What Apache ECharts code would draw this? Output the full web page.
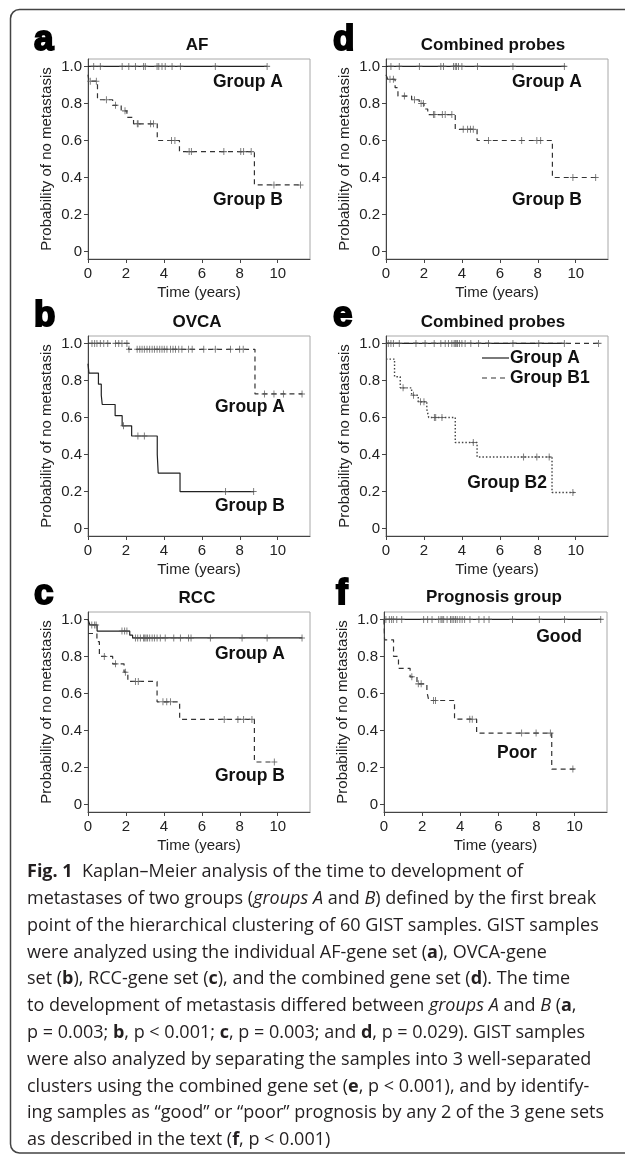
<!DOCTYPE html>
<html><head><meta charset="utf-8">
<script src="https://cdn.jsdelivr.net/npm/echarts@6/dist/echarts.min.js"></script>
<style>html,body{margin:0;padding:0;background:#fff}#c{width:625px;height:1156px}</style>
</head><body><div id="c"></div>
<script>
// ---------- tick labels ----------
const xTicks = [0, 2, 4, 6, 8, 10];
const yTicks = [0, 0.2, 0.4, 0.6, 0.8, 1.0];

// ---------- panel a (AF) ----------
const aA_t = [0, 9.44];
const aA_s = [1, 1];
const aA_c = [0.3, 0.65, 1.8, 2.15, 2.5, 2.93, 3.02, 3.64, 3.73, 3.9, 4.07, 4.43, 4.87, 6.71, 9.44];
const aB_t = [0, 0.05, 0.5, 1.3, 1.75, 2.05, 2.4, 3.65, 4.82, 8.77, 11.25];
const aB_s = [0.955, 0.92, 0.82, 0.79, 0.76, 0.725, 0.69, 0.60, 0.54, 0.36, 0.36];
const aB_c = [0.12, 0.44, 0.97, 1.45, 1.95, 2.6, 2.64, 3.3, 3.45, 4.4, 4.58, 5.33, 5.45, 7.16, 8.05, 8.2, 8.6, 9.8, 11.2];

// ---------- panel b (OVCA) ----------
const bA_t = [0, 2.14, 8.8, 11.3];
const bA_s = [1, 0.968, 0.727, 0.727];
const bA_c = [0.21, 0.35, 0.47, 0.65, 0.83, 1.04, 1.45, 1.62, 1.79, 2.05, 2.16, 2.59, 2.73, 2.85, 2.97, 3.11, 3.25, 3.38, 3.5, 3.64, 3.78, 3.9, 4.02, 4.16, 4.35, 4.48, 4.61, 4.78, 4.95, 5.3, 5.49, 6.1, 6.71, 7.51, 7.99, 8.18, 9.3, 9.8, 10.3, 11.28];
const bB_t = [0, 0.05, 0.55, 0.7, 0.75, 1.43, 1.8, 2.3, 3.65, 3.7, 4.85, 8.75];
const bB_s = [0.89, 0.84, 0.78, 0.72, 0.67, 0.61, 0.555, 0.50, 0.40, 0.30, 0.20, 0.20];
const bB_c = [1.87, 2.63, 2.97, 7.25, 8.73];

// ---------- panel c (RCC) ----------
const cA_t = [0, 0.1, 0.48, 2.2, 2.35, 11.3];
const cA_s = [1, 0.97, 0.937, 0.915, 0.90, 0.90];
const cA_c = [0.2, 0.35, 0.43, 1.79, 1.93, 2.05, 2.5, 2.62, 2.76, 2.93, 2.99, 3.06, 3.14, 3.25, 3.38, 3.5, 3.64, 3.81, 4.07, 4.52, 4.87, 5.3, 5.43, 6.45, 8.12, 9.44, 11.28];
const cB_t = [0, 0.47, 0.6, 1.3, 1.9, 2.1, 3.64, 4.83, 8.77, 9.85];
const cB_s = [0.924, 0.88, 0.80, 0.76, 0.715, 0.665, 0.555, 0.46, 0.23, 0.23];
const cB_c = [0.86, 1.45, 1.97, 2.5, 2.65, 3.95, 4.15, 4.35, 7.18, 7.9, 8.2, 8.64, 9.82];

// ---------- panel d (Combined probes) ----------
const dA_t = [0, 9.45];
const dA_s = [1, 1];
const dA_c = [0.26, 0.7, 1.76, 2.89, 3.03, 3.56, 3.65, 3.72, 3.82, 4.0, 4.82, 6.69, 9.4];
const dB_t = [0, 0.1, 0.48, 0.63, 1.35, 1.75, 2.0, 2.2, 3.65, 4.8, 8.77, 11.1];
const dB_s = [0.955, 0.93, 0.885, 0.84, 0.82, 0.80, 0.77, 0.74, 0.66, 0.60, 0.40, 0.40];
const dB_c = [0.21, 0.39, 0.97, 1.5, 1.85, 1.97, 2.5, 2.57, 2.97, 3.12, 3.47, 4.07, 4.3, 4.45, 4.6, 5.4, 7.15, 7.95, 8.15, 9.85, 11.05];

// ---------- panel e (Combined probes, 3 clusters) ----------
const eA_t = [0, 9.4];
const eA_s = [1, 1];
const eA_c = [0.12, 0.26, 0.39, 0.7, 1.58, 2.06, 2.54, 2.89, 3.12, 3.29, 3.47, 3.59, 3.65, 3.7, 3.77, 3.87, 4.0, 4.17, 4.47, 4.88, 5.4, 6.69, 8.05, 9.4];
const eB1_t = [0, 11.2];
const eB1_s = [1, 1];
const eB1_c = [11.2];
const eB2_t = [0, 0.45, 0.75, 1.35, 1.7, 2.15, 2.25, 3.65, 4.8, 8.75, 9.95];
const eB2_s = [0.915, 0.82, 0.76, 0.72, 0.685, 0.645, 0.60, 0.465, 0.387, 0.195, 0.195];
const eB2_c = [0.9, 1.45, 1.82, 2.0, 2.55, 2.62, 2.95, 4.6, 7.25, 7.95, 8.6, 9.85];

// ---------- panel f (Prognosis group) ----------
const fG_t = [0, 11.4];
const fG_s = [1, 1];
const fG_c = [0.1, 0.28, 0.4, 0.49, 0.67, 0.93, 2.08, 2.29, 2.52, 2.87, 2.99, 3.05, 3.13, 3.31, 3.49, 3.57, 3.66, 3.75, 3.84, 3.98, 4.1, 4.23, 4.51, 4.98, 5.25, 5.51, 6.74, 8.15, 9.47, 11.37];
const fP_t = [0, 0.03, 0.5, 0.76, 1.37, 1.73, 2.25, 2.35, 3.7, 4.86, 8.8, 10.0];
const fP_s = [1, 0.89, 0.80, 0.736, 0.69, 0.652, 0.61, 0.562, 0.461, 0.386, 0.192, 0.192];
const fP_c = [1.46, 1.8, 1.95, 2.6, 2.7, 4.5, 4.63, 7.22, 7.98, 8.73, 9.91];

// ---------- layout / styles ----------
const FF = 'Liberation Sans, Arial, sans-serif';
const SOLID = {type: 'solid', width: 1.2, color: '#222'};
const DASH = {type: [5, 4], width: 1.2, color: '#333'};
const DOT = {type: [1.5, 2], width: 1.4, color: '#444'};

const panels = [
  {grid: {left: 88, top: 59, width: 222, height: 200}, curves: [[aA_t, aA_s, aA_c, SOLID], [aB_t, aB_s, aB_c, DASH]]},
  {grid: {left: 88, top: 336, width: 222, height: 200}, curves: [[bA_t, bA_s, bA_c, DASH], [bB_t, bB_s, bB_c, SOLID]]},
  {grid: {left: 88, top: 612, width: 222, height: 200}, curves: [[cA_t, cA_s, cA_c, SOLID], [cB_t, cB_s, cB_c, DASH]]},
  {grid: {left: 386, top: 59, width: 222, height: 200}, curves: [[dA_t, dA_s, dA_c, SOLID], [dB_t, dB_s, dB_c, DASH]]},
  {grid: {left: 386, top: 336, width: 222, height: 200}, curves: [[eB1_t, eB1_s, eB1_c, DASH], [eA_t, eA_s, eA_c, SOLID], [eB2_t, eB2_s, eB2_c, DOT]]},
  {grid: {left: 384, top: 612, width: 223, height: 200}, curves: [[fG_t, fG_s, fG_c, SOLID], [fP_t, fP_s, fP_c, DASH]]}
];

function kmData(t, s) { return t.map((v, i) => [v, s[i]]); }
function censData(t, s, c) {
  return c.map(x => { let y = s[0]; for (let i = 0; i < t.length; i++) { if (t[i] <= x) y = s[i]; } return [x, y]; });
}

const grids = [], xAxes = [], yAxes = [], series = [];
panels.forEach((p, gi) => {
  grids.push(Object.assign({show: true, borderColor: '#a8a8a8', borderWidth: 1, backgroundColor: 'transparent'}, p.grid));
  xAxes.push({
    type: 'value', gridIndex: gi, min: 0, max: 11.7,
    axisLine: {show: true, onZero: false, lineStyle: {color: '#444', width: 1}},
    axisTick: {show: true, length: 4, customValues: xTicks, lineStyle: {color: '#444'}},
    axisLabel: {customValues: xTicks, fontSize: 15, fontFamily: FF, color: '#222', margin: 7},
    splitLine: {show: false},
    name: 'Time (years)', nameLocation: 'middle', nameGap: 26,
    nameTextStyle: {fontSize: 15, fontFamily: FF, color: '#222'}
  });
  yAxes.push({
    type: 'value', gridIndex: gi, min: -0.04, max: 1.04,
    axisLine: {show: true, onZero: false, lineStyle: {color: '#444', width: 1}},
    axisTick: {show: true, length: 4, customValues: yTicks, lineStyle: {color: '#444'}},
    axisLabel: {customValues: yTicks, fontSize: 15, fontFamily: FF, color: '#222', margin: 6,
      formatter: v => (Math.abs(v) < 1e-9 ? '0' : v.toFixed(1))},
    splitLine: {show: false},
    name: 'Probability of no metastasis', nameLocation: 'middle', nameGap: 34,
    nameTextStyle: {fontSize: 15, fontFamily: FF, color: '#222'}
  });
  p.curves.forEach(([t, s, c, ls]) => {
    series.push({
      type: 'line', xAxisIndex: gi, yAxisIndex: gi, step: 'end', data: kmData(t, s),
      showSymbol: false, symbol: 'none', lineStyle: ls, silent: true, animation: false, z: ls === SOLID ? 3 : 2
    });
    series.push({
      type: 'scatter', xAxisIndex: gi, yAxisIndex: gi, data: censData(t, s, c),
      symbol: 'path://M5,0L5,10M0,5L10,5', symbolSize: [6, 7],
      itemStyle: {color: 'none', borderColor: '#555', borderWidth: 1}, silent: true, animation: false, z: 4
    });
  });
});

function T(x, y, text, size, weight, align) {
  return {type: 'text', x: x, y: y, silent: true,
    style: {text: text, fontSize: size, fontWeight: weight || 'normal', fontFamily: FF, fill: '#111',
      align: align || 'center', verticalAlign: 'middle'}};
}
function L(x1, y1, x2, y2, ls) {
  return {type: 'line', silent: true, shape: {x1: x1, y1: y1, x2: x2, y2: y2},
    style: {stroke: ls.color, lineWidth: ls.width, lineDash: Array.isArray(ls.type) ? ls.type : null}};
}
function LET(x, y, ch) {
  return {type: 'text', x: x, y: y, silent: true,
    style: {text: ch, fontSize: 35, fontWeight: 'bold', fontFamily: FF, fill: '#000', stroke: '#000', lineWidth: 2,
      align: 'left', verticalAlign: 'middle'}};
}

const graphics = [
  {type: 'rect', silent: true, shape: {x: 10.5, y: 9.5, width: 700, height: 1143.5, r: 9},
    style: {fill: 'none', stroke: '#444', lineWidth: 1.5}},
  // panel letters
  LET(34, 40, 'a'), LET(333, 40, 'd'), LET(34, 316, 'b'), LET(333, 316, 'e'), LET(34, 594, 'c'), LET(336, 594, 'f'),
  // titles
  T(197, 45, 'AF', 17, 'bold'), T(493, 45, 'Combined probes', 17, 'bold'),
  T(197, 322, 'OVCA', 17, 'bold'), T(493, 322, 'Combined probes', 17, 'bold'),
  T(197, 598, 'RCC', 17, 'bold'), T(494, 597, 'Prognosis group', 17, 'bold'),
  // group labels
  T(248, 82, 'Group A', 17.5, 'bold'), T(248, 200, 'Group B', 17.5, 'bold'),
  T(547, 82, 'Group A', 17.5, 'bold'), T(547, 200, 'Group B', 17.5, 'bold'),
  T(250, 407, 'Group A', 17.5, 'bold'), T(250, 506, 'Group B', 17.5, 'bold'),
  T(250, 654, 'Group A', 17.5, 'bold'), T(250, 776, 'Group B', 17.5, 'bold'),
  T(559, 637, 'Good', 17.5, 'bold'), T(517, 753, 'Poor', 17.5, 'bold'),
  T(507, 483, 'Group B2', 17.5, 'bold'),
  // panel e legend
  L(482, 358, 509, 358, SOLID), L(482, 378, 509, 378, DASH),
  T(510, 358, 'Group A', 17.5, 'bold', 'left'), T(510, 378, 'Group B1', 17.5, 'bold', 'left')
];

// caption
const CF = 'Open Sans, Noto Sans, sans-serif';
const capLines = [
  '{b|Fig. 1}  Kaplan–Meier analysis of the time to development of',
  'metastases of two groups ({i|groups A} and {i|B}) defined by the first break',
  'point of the hierarchical clustering of 60 GIST samples. GIST samples',
  'were analyzed using the individual AF-gene set ({b|a}), OVCA-gene',
  'set ({b|b}), RCC-gene set ({b|c}), and the combined gene set ({b|d}). The time',
  'to development of metastasis differed between {i|groups A} and {i|B} ({b|a},',
  'p = 0.003; {b|b}, p < 0.001; {b|c}, p = 0.003; and {b|d}, p = 0.029). GIST samples',
  'were also analyzed by separating the samples into 3 well-separated',
  'clusters using the combined gene set ({b|e}, p < 0.001), and by identify-',
  'ing samples as “good” or “poor” prognosis by any 2 of the 3 gene sets',
  'as described in the text ({b|f}, p < 0.001)'
];
const capSize = 18;
capLines.forEach((ln, i) => {
  graphics.push({type: 'text', x: 27, y: 872 + i * 26.8, silent: true,
    style: {text: ln, fontSize: capSize, fontFamily: CF, fill: '#231f20', align: 'left', verticalAlign: 'middle',
      rich: {
        b: {fontSize: capSize, fontFamily: CF, fontWeight: 'bold', fill: '#231f20'},
        i: {fontSize: capSize, fontFamily: CF, fontStyle: 'italic', fill: '#231f20'}
      }}});
});

const chart = echarts.init(document.getElementById('c'), null, {renderer: 'canvas'});
chart.setOption({
  animation: false,
  backgroundColor: '#fff',
  grid: grids, xAxis: xAxes, yAxis: yAxes, series: series,
  graphic: {elements: graphics}
});
</script></body></html>
